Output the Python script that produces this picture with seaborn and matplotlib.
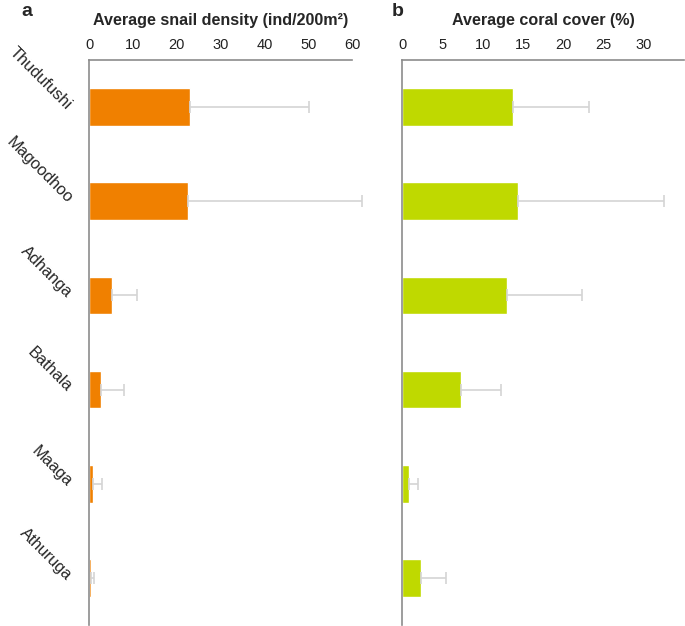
import numpy as np
import pandas as pd
import matplotlib
matplotlib.use('Agg')
import matplotlib.pyplot as plt
import seaborn as sns

sites = ['Thudufushi', 'Magoodhoo', 'Adhanga', 'Bathala', 'Maaga', 'Athuruga']
snail_mean = [23.0, 22.5, 5.3, 2.8, 0.9, 0.4]
snail_err = [27.1, 39.8, 5.7, 5.2, 2.1, 0.8]
coral_mean = [13.8, 14.4, 13.0, 7.3, 0.8, 2.3]
coral_err = [9.4, 18.1, 9.3, 5.0, 1.2, 3.1]

sns.set_style('white')
plt.rcParams['font.family'] = ['Liberation Sans', 'DejaVu Sans']

df = pd.DataFrame({
    'site': sites,
    'snail': snail_mean,
    'coral': coral_mean,
})

fig = plt.figure(figsize=(6.85, 6.26), dpi=100)
ax_a = fig.add_axes([0.130, 0.0016, 0.384, 0.9026])
ax_b = fig.add_axes([0.587, 0.0016, 0.4115, 0.9026])

panels = [
    (ax_a, 'snail', snail_err, '#F08000', 60, 10, 'Average snail density (ind/200m²)'),
    (ax_b, 'coral', coral_err, '#BFD900', 35, 5, 'Average coral cover (%)'),
]

for ax, col, err, color, xmax, step, title in panels:
    sns.barplot(data=df, x=col, y='site', orient='h', color=color,
                width=0.4, saturation=1, ax=ax)
    # one-sided error bars, allowed to run past the axis end
    eb = ax.errorbar(df[col], np.arange(len(sites)),
                     xerr=[np.zeros(len(sites)), err],
                     fmt='none', ecolor='#d4d4d4', elinewidth=1.2,
                     capsize=4, capthick=1.2)
    for part in eb.lines[1] + eb.lines[2]:
        part.set_clip_on(False)
    ax.set_xlim(0, xmax)
    ax.set_ylim(5.5, -0.5)
    ticks = np.arange(0, 31 if xmax == 35 else 61, step)
    ax.set_xticks(ticks)
    ax.xaxis.tick_top()
    ax.tick_params(axis='x', length=0, pad=6, labelsize=10.5, colors='#222222')
    ax.set_xlabel('')
    ax.set_ylabel('')
    for s in ['right', 'bottom']:
        ax.spines[s].set_visible(False)
    for s in ['top', 'left']:
        ax.spines[s].set_color('#8c8c8c')
        ax.spines[s].set_linewidth(1.2)
    ax.set_title(title, fontsize=11.6, fontweight='bold', pad=25)

ax_a.tick_params(axis='y', length=0, pad=14, labelsize=11.8)
for lbl in ax_a.get_yticklabels():
    lbl.set_rotation(-45)
    lbl.set_ha('right')
    lbl.set_va('center')
    lbl.set_rotation_mode('anchor')
ax_b.set_yticks([])

fig.text(21 / 685, 1 - 12 / 626, 'a', fontsize=14, fontweight='bold', va='center')
fig.text(392 / 685, 1 - 12 / 626, 'b', fontsize=14, fontweight='bold', va='center')

fig.savefig('out.png', dpi=100)
